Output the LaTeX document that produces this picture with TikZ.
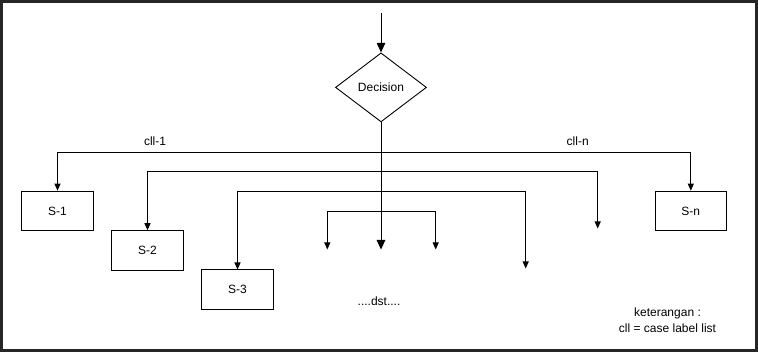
\documentclass[tikz,border=0pt]{standalone}
\usepackage{fontspec}
\setmainfont{Liberation Sans}
\usetikzlibrary{shapes.geometric,arrows.meta}
\begin{document}
\begin{tikzpicture}[x=1pt,y=-1pt,
  font=\fontsize{12}{16}\selectfont,
  wire/.style={line width=0.9pt,draw=black},
  arr/.style={wire,-{Triangle[width=6pt,length=7pt]}},
  bigarr/.style={wire,-{Triangle[width=8.5pt,length=9.5pt]}},
  stmt/.style={draw,line width=0.9pt,minimum width=71.5pt,minimum height=39.5pt,inner sep=0pt},
  decision/.style={diamond,draw,line width=0.9pt,minimum width=91pt,minimum height=69pt,aspect=1.32,inner sep=0pt},
  txt/.style={inner sep=0pt}]
\useasboundingbox (0,0) rectangle (758,352);
\draw[line width=2.8pt,draw=black!85] (1.4,1.4) rectangle (756.6,350.6);

% decision and statement blocks
\node[decision] (dec) at (381,87.4) {Decision};
\node[stmt] (s1) at (57.5,210.9) {S-1};
\node[stmt] (s2) at (147.5,250.4) {S-2};
\node[stmt] (s3) at (237.5,289.7) {S-3};
\node[stmt] (sn) at (690.8,210.9) {S-n};

% entry
\coordinate (in) at (381,13);
\draw[bigarr] (in) -- (dec.north);

% branch junctions on the main stem
\coordinate (j1) at (381,152);
\coordinate (j2) at (381,171.7);
\coordinate (j3) at (381,191.7);
\coordinate (j4) at (381,211.7);
\coordinate (mid) at (381,249.5);
\coordinate (e2) at (597.7,228.5);
\coordinate (e3) at (525.7,268.5);
\coordinate (e4a) at (327.3,249.5);
\coordinate (e4b) at (435.7,249.5);

\draw[bigarr] (dec.south) -- (mid);
\draw[arr] (j1) -| (s1.north);
\draw[arr] (j1) -| (sn.north);
\draw[arr] (j2) -| (s2.north);
\draw[arr] (j2) -| (e2);
\draw[arr] (j3) -| (s3.north);
\draw[arr] (j3) -| (e3);
\draw[arr] (j4) -| (e4a);
\draw[arr] (j4) -| (e4b);

% labels
\node[txt] (l1) at (155,141.7) {cll-1};
\node[txt] (ln) at (577.7,141.7) {cll-n};
\node[txt] (dst) at (379,301) {....dst....};
\node[txt,align=center] (note) at (667.5,320.3) {keterangan :\\cll = case label list};
\end{tikzpicture}
\end{document}
